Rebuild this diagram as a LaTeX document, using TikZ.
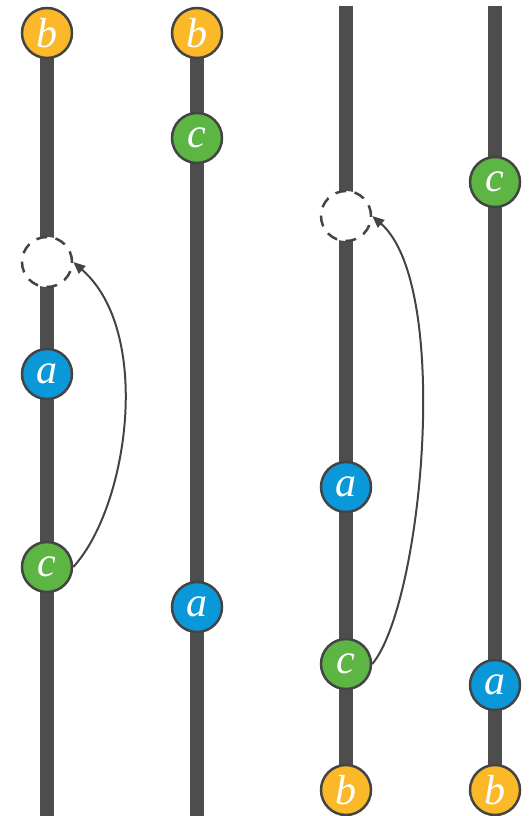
\documentclass[tikz,border=0pt]{standalone}
\usepackage{fontspec}
\setmainfont{Liberation Serif}
\usetikzlibrary{arrows.meta}
\definecolor{barcol}{HTML}{4D4D4D}
\definecolor{edgecol}{HTML}{444444}
\definecolor{ocol}{HTML}{FBB829}
\definecolor{gcol}{HTML}{5DB544}
\definecolor{bcol}{HTML}{0B98D8}
\tikzset{
  bar/.style={line width=14pt, draw=barcol},
  ball/.style={circle, minimum size=50pt, inner sep=0pt, line width=2.5pt, draw=edgecol,
    text=white, font=\fontsize{42}{42}\selectfont\itshape},
  ob/.style={ball, fill=ocol},
  gb/.style={ball, fill=gcol},
  bb/.style={ball, fill=bcol},
  hole/.style={circle, minimum size=50pt, inner sep=0pt, line width=2.5pt, draw=edgecol,
    fill=white, dash pattern=on 11pt off 8.5pt},
  move/.style={line width=2pt, draw=edgecol, -{Triangle[length=12pt,width=10pt]}}
}
\begin{document}
\begin{tikzpicture}[x=1pt, y=-1pt]
\useasboundingbox (0,0) rectangle (529,816);
% column tracks
\coordinate (t1) at (47,816);
\coordinate (t2) at (197,816);
\coordinate (t3) at (346,6);
\coordinate (t4) at (495,6);
\coordinate (s1) at (47,33);
\coordinate (s2) at (197,33);
\coordinate (s3) at (346,790);
\coordinate (s4) at (495,790);
\draw[bar] (s1) -- (t1);
\draw[bar] (s2) -- (t2);
\draw[bar] (t3) -- (s3);
\draw[bar] (t4) -- (s4);
% column 1
\node[ob] (b1) at (47,33) {b};
\node[hole] (h1) at (47,262) {};
\node[bb] (a1) at (47,374) {a};
\node[gb] (c1) at (47,567) {c};
% column 2
\node[ob] (b2) at (197,33) {b};
\node[gb] (c2) at (197,138) {c};
\node[bb] (a2) at (197,607) {a};
% column 3
\node[hole] (h3) at (346,216) {};
\node[bb] (a3) at (346,487) {a};
\node[gb] (c3) at (346,664) {c};
\node[ob] (b3) at (346,790) {b};
% column 4
\node[gb] (c4) at (495,182) {c};
\node[bb] (a4) at (495,685) {a};
\node[ob] (b4) at (495,790) {b};
% moves
\draw[move] (c1.east) .. controls +(55,-60) and +(80,70) .. (h1.east);
\draw[move] (c3.east) .. controls +(50,-60) and +(80,70) .. (h3.east);
\end{tikzpicture}
\end{document}
